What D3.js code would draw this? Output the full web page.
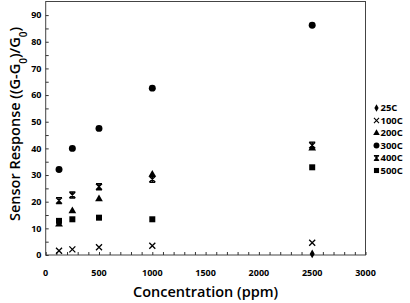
<!DOCTYPE html>
<html lang='en'>
<head>
	<meta charset='UTF-8'/>
	<title>Sensor Response</title>
	<script src='https://cdnjs.cloudflare.com/ajax/libs/d3/7.8.5/d3.min.js'></script>
	<style>
		body {margin: 0; background: #fff;}
		svg {display: block; font-family: 'Open Sans', sans-serif;}
	</style>
</head>
<body>
	<div class='graph'></div>
	<script>
		// data (null = no visible point)
		const concentrations = [125, 250, 500, 1000, 2500];
		const seriesNames = ['25C', '100C', '200C', '300C', '400C', '500C'];
		const r25 = [null, null, null, null, 0.4];
		const r100 = [1.6, 2.1, 2.9, 3.5, 4.6];
		const r200 = [11.5, 16.5, 21, 30.2, 40];
		const r300 = [32.1, 40, 47.5, 62.6, 86.2];
		const r400 = [20.4, 22.5, 25.6, 28.4, 41.2];
		const r500 = [12.8, 13.4, 14, 13.4, 32.9];
		const xTicks = [0, 500, 1000, 1500, 2000, 2500, 3000];
		const yTicks = [0, 10, 20, 30, 40, 50, 60, 70, 80, 90];

		const width = 410, height = 303;
		const margin = {top: 1.5, right: 44.5, bottom: 48, left: 45.7};

		const svg = d3.select('.graph').append('svg')
			.attr('width', width)
			.attr('height', height);

		const X = d3.scaleLinear().domain([0, 3000]).range([margin.left, width - margin.right]);
		const Y = d3.scaleLinear().domain([0, 95.1]).range([height - margin.bottom, margin.top]);

		// plot frame
		svg.append('rect')
			.attr('x', X(0)).attr('y', Y(95.1))
			.attr('width', X(3000) - X(0)).attr('height', Y(0) - Y(95.1))
			.style('fill', 'none').style('stroke', '#444').style('stroke-width', 1);

		// minor/major ticks, inward
		svg.append('g')
			.attr('transform', 'translate(0,' + Y(0) + ')')
			.call(d3.axisBottom(X).tickValues(d3.range(0, 3001, 100)).tickSize(-3).tickFormat(''))
			.call(g => g.select('.domain').remove())
			.call(g => g.selectAll('line').style('stroke', '#333'));
		svg.append('g')
			.attr('transform', 'translate(' + X(0) + ',0)')
			.call(d3.axisLeft(Y).tickValues(d3.range(0, 95, 5)).tickSize(-3).tickFormat(''))
			.call(g => g.select('.domain').remove())
			.call(g => g.selectAll('line').style('stroke', '#333'));

		// tick labels
		svg.append('g').selectAll('text').data(xTicks).join('text')
			.attr('x', d => X(d)).attr('y', 275.5)
			.attr('text-anchor', 'middle')
			.style('font-size', '9px').style('font-weight', 700)
			.text(d => d);
		svg.append('g').selectAll('text').data(yTicks).join('text')
			.attr('x', 41.5).attr('y', d => Y(d) + 3.3)
			.attr('text-anchor', 'end')
			.style('font-size', '9px').style('font-weight', 700)
			.text(d => d);

		// axis titles
		svg.append('text')
			.attr('x', X(1500)).attr('y', 297)
			.attr('text-anchor', 'middle')
			.style('font-size', '14.5px').style('font-weight', 600)
			.text('Concentration (ppm)');
		const yt = svg.append('text')
			.attr('transform', 'translate(20,' + 124 + ') rotate(-90)')
			.attr('text-anchor', 'middle')
			.style('font-size', '14.5px').style('font-weight', 600);
		yt.append('tspan').text('Sensor Response ((G-G');
		yt.append('tspan').attr('baseline-shift', 'sub').style('font-size', '10px').text('0');
		yt.append('tspan').text(')/G');
		yt.append('tspan').attr('baseline-shift', 'sub').style('font-size', '10px').text('0');
		yt.append('tspan').text(')');

		// markers
		const cross = 'M-3,-3L3,3M-3,3L3,-3';
		const star = 'M-3,-3L3,3M-3,3L3,-3M0,-3.5L0,3.5M-3,-3L3,-3M-3,3L3,3';
		const markers = {
			'25C': {type: d3.symbolDiamond, size: 22},
			'100C': {path: cross},
			'200C': {type: d3.symbolTriangle, size: 26},
			'300C': {type: d3.symbolCircle, size: 38},
			'400C': {path: star},
			'500C': {type: d3.symbolSquare, size: 36}
		};
		const seriesValues = [r25, r100, r200, r300, r400, r500];

		function drawMarker(sel, name) {
			const m = markers[name];
			if (m.path) {
				sel.append('path').attr('d', m.path)
					.style('fill', 'none').style('stroke', '#000').style('stroke-width', 1.3);
			} else {
				sel.append('path').attr('d', d3.symbol().type(m.type).size(m.size)())
					.style('fill', '#000');
			}
		}

		seriesNames.forEach((name, si) => {
			const g = svg.append('g');
			concentrations.forEach((c, i) => {
				const v = seriesValues[si][i];
				if (v === null) return;
				const p = g.append('g')
					.attr('transform', 'translate(' + X(c) + ',' + Y(v) + ')');
				drawMarker(p, name);
			});
		});

		// legend
		seriesNames.forEach((name, i) => {
			const ly = 108 + i * 12.5;
			const s = svg.append('g').attr('transform', 'translate(376.5,' + ly + ') scale(0.85)');
			drawMarker(s, name);
			svg.append('text')
				.attr('x', 380.5).attr('y', ly + 3.4)
				.style('font-size', '9.5px').style('font-weight', 700)
				.text(name);
		});
	</script>
</body>
</html>
